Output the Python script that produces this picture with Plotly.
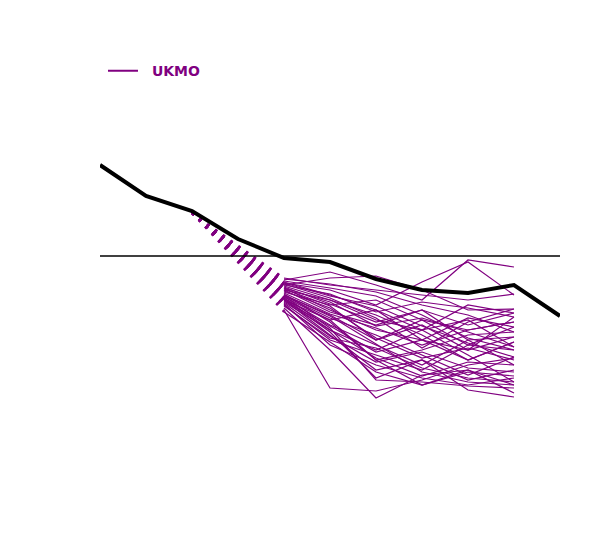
import plotly.graph_objects as go

# lead times (years) and observed/analysis series
years = [0, 1, 2, 3, 4, 5, 6, 7, 8, 9, 10]
obs = [9.1, 6.0, 4.5, 1.7, -0.2, -0.6, -2.3, -3.4, -3.7, -2.9, -6.0]

# UKMO ensemble members, forecast years 4..9
fc_years = [4, 5, 6, 7, 8, 9]
start_year = 2
start_val = 4.3

members_px = [
    [280, 272, 285, 300, 260, 267],
    [283, 290, 305, 282, 262, 295],
    [285, 278, 276, 290, 310, 309],
    [278, 285, 290, 295, 300, 294],
    [290, 300, 320, 330, 305, 313],
    [288, 310, 330, 340, 350, 317],
    [295, 315, 340, 320, 330, 322],
    [292, 305, 300, 320, 345, 327],
    [300, 320, 360, 350, 335, 332],
    [298, 325, 345, 365, 340, 337],
    [286, 300, 315, 335, 360, 342],
    [302, 330, 350, 330, 320, 347],
    [305, 340, 355, 370, 345, 350],
    [296, 318, 335, 355, 375, 357],
    [310, 388, 391, 380, 365, 358],
    [290, 312, 325, 310, 340, 365],
    [300, 335, 370, 360, 380, 370],
    [294, 322, 360, 385, 372, 376],
    [304, 345, 365, 378, 385, 378],
    [282, 295, 310, 330, 355, 382],
    [308, 350, 398, 375, 370, 385],
    [296, 328, 380, 382, 386, 388],
    [312, 342, 372, 385, 370, 393],
    [299, 332, 378, 360, 390, 397],
    [284, 298, 318, 348, 322, 309],
    [287, 304, 322, 310, 325, 313],
    [293, 314, 328, 345, 330, 322],
    [289, 306, 340, 325, 350, 337],
    [297, 320, 310, 340, 318, 327],
    [281, 288, 296, 315, 338, 350],
    [301, 326, 352, 340, 360, 342],
    [291, 308, 338, 358, 348, 360],
    [306, 338, 348, 368, 378, 382],
    [285, 294, 312, 302, 308, 317],
    [279, 284, 292, 305, 315, 332],
    [303, 336, 362, 352, 368, 372],
    [295, 316, 344, 372, 382, 385],
    [288, 302, 326, 318, 332, 347],
    [298, 330, 358, 376, 362, 365],
    [283, 296, 306, 326, 343, 357],
]
# values (10 px per unit, zero at the reference line)
members = [[round((256 - p) / 10, 1) for p in m] for m in members_px]

purple = "#800080"
fig = go.Figure()

# dotted connectors from last analysis point to first forecast
for m in members:
    fig.add_trace(go.Scatter(x=[start_year, fc_years[0]], y=[start_val, m[0]],
                             mode="lines", showlegend=False, hoverinfo="skip",
                             line=dict(color=purple, width=2, dash="2.5px,7px")))

for m in members:
    fig.add_trace(go.Scatter(x=fc_years, y=m, mode="lines", showlegend=False,
                             line=dict(color=purple, width=1.2)))

# legend entry only
fig.add_trace(go.Scatter(x=[None], y=[None], mode="lines",
                         name="&nbsp;&nbsp;<b>UKMO</b>",
                         line=dict(color=purple, width=2)))

fig.add_trace(go.Scatter(x=years, y=obs, mode="lines", showlegend=False,
                         line=dict(color="black", width=4)))

fig.add_shape(type="line", xref="paper", yref="y", x0=0, x1=1, y0=0, y1=0,
              line=dict(color="black", width=1.3))

fig.update_layout(
    width=600, height=540,
    margin=dict(l=92, r=48, t=92, b=88),
    plot_bgcolor="white", paper_bgcolor="white",
    xaxis=dict(visible=False, range=[0, 10]),
    yaxis=dict(visible=False, range=[-20.4, 15.6]),
    legend=dict(x=0.0065, y=1.08, xanchor="left", yanchor="middle",
                font=dict(family="DejaVu Sans", size=14, color=purple),
                bgcolor="rgba(0,0,0,0)"),
)

fig.write_html("out.html")
